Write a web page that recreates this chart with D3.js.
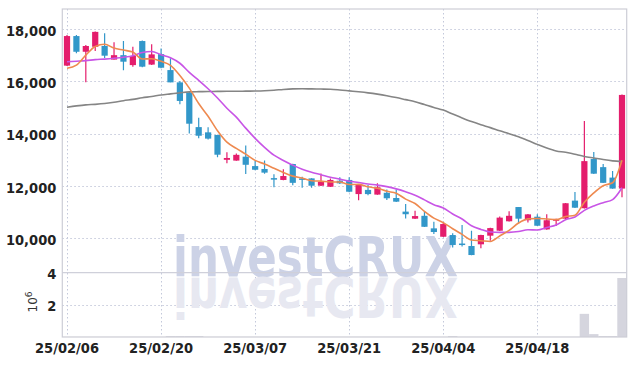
<!DOCTYPE html>
<html><head><meta charset="utf-8">
<script src="https://cdn.jsdelivr.net/npm/d3@7"></script>
<style>body{margin:0;background:#fff;} svg{display:block;}</style>
</head><body><svg id="c" width="635" height="366"></svg>
<script>
const dates = ["25/02/06","25/02/07","25/02/10","25/02/11","25/02/12","25/02/13","25/02/14","25/02/17","25/02/18","25/02/19",
"25/02/20","25/02/21","25/02/24","25/02/25","25/02/26","25/02/27","25/02/28","25/03/04","25/03/05","25/03/06",
"25/03/07","25/03/10","25/03/11","25/03/12","25/03/13","25/03/14","25/03/17","25/03/18","25/03/19","25/03/20",
"25/03/21","25/03/24","25/03/25","25/03/26","25/03/27","25/03/28","25/03/31","25/04/01","25/04/02","25/04/03",
"25/04/04","25/04/07","25/04/08","25/04/09","25/04/10","25/04/11","25/04/14","25/04/15","25/04/16","25/04/17",
"25/04/18","25/04/21","25/04/22","25/04/23","25/04/24","25/04/25","25/04/28","25/04/29","25/04/30","25/05/02"];
const open  = [16600,17730,17130,17320,17350,16830,17000,16620,17540,16640,17040,16430,15960,15570,14250,14050,13950,13000,12970,13120,
12760,12650,12300,12230,12840,12290,12290,12010,11970,12200,12230,11690,11850,11670,11740,11540,11020,10750,10860,10380,
10060,10125,9800,9705,9770,10100,10290,10650,11195,10690,10825,10340,10670,10750,11440,11150,13030,12720,12320,11900];
const high  = [17770,17770,17390,17900,17835,17490,17540,17320,17560,17420,17250,16880,16010,15600,14610,14240,13960,13290,13240,13550,
12950,12970,12450,12640,12850,12350,12300,12480,12290,12330,12330,12050,12040,12100,11870,11870,11310,11050,11020,10630,
10620,10190,10510,10290,10140,10400,10830,11030,11200,10930,10915,10915,10750,11350,11770,14480,13300,12840,12570,15500];
const low   = [16590,17070,15960,17160,16890,16830,16420,16560,16540,16620,16500,15960,15120,14010,13820,13780,13095,12870,12960,12460,
12600,12470,11950,12220,12025,11930,11930,12000,11960,12080,11760,11450,11650,11660,11460,11390,10760,10740,10430,10160,
10050,9650,9690,9350,9615,9910,10280,10640,10570,10600,10470,10330,10470,10740,11160,11140,12460,12110,11890,11570];
const close = [17730,17130,17350,17890,16980,17000,16750,16970,16560,17030,16520,15960,15250,14380,13920,13810,13195,13070,13190,12810,
12620,12510,12250,12380,12120,12250,12010,12160,12230,12100,11780,12040,11690,11950,11530,11400,10920,10850,10440,10240,
10545,9745,9770,9360,10125,10390,10790,10860,10750,10915,10480,10690,10740,11340,11170,12950,12470,12120,11900,15480];
const volume = [8000,8000,8000,8000,8000,8000,8000,8000,8000,8000,8000,60000,60000,60000,60000,8000,8000,8000,8000,8000,
8000,8000,8000,8000,8000,8000,8000,8000,8000,8000,8000,8000,8000,8000,8000,8000,8000,8000,8000,8000,
8000,60000,8000,8000,8000,8000,8000,8000,8000,8000,8000,8000,8000,8000,8000,1440000,180000,60000,60000,3670000];
const ma5 = [16500,16620,17000,17330,17416,17270,17194,17118,16852,16862,16766,16608,16220,15740,15150,14664,14111,13675,13437,13215,
12977,12840,12676,12514,12376,12302,12202,12184,12154,12150,12056,12062,11968,11912,11798,11722,11498,11330,11028,10770,
10599,10364,10148,9932,9909,9878,10087,10305,10583,10741,10759,10739,10715,10833,10884,11378,11734,12010,12122,12984];
const ma10 = [16750,16770,16790,16830,16850,16880,16920,16980,17100,17139,17018,16901,16691,16340,16034,15715,15360,14970,14633,14211,
13821,13476,13176,12976,12796,12640,12521,12430,12334,12263,12179,12132,12076,12033,11974,11889,11780,11649,11470,11284,
11161,10931,10739,10480,10340,10239,10226,10227,10258,10325,10319,10413,10510,10708,10813,11069,11237,11363,11478,11934];
const maLong = [15010,15060,15100,15120,15150,15200,15260,15310,15370,15420,15480,15520,15560,15595,15605,15610,15615,15620,15620,15625,
15630,15640,15660,15690,15710,15715,15710,15705,15698,15670,15635,15600,15560,15510,15450,15380,15300,15220,15110,15000,
14900,14750,14600,14460,14340,14230,14110,14000,13880,13740,13590,13450,13340,13290,13210,13130,13070,13010,12960,12930];
const priceTicks = [10000,12000,14000,16000,18000];
const volTicks = [2000000,4000000];
const dateTicks = ["25/02/06","25/02/20","25/03/07","25/03/21","25/04/04","25/04/18"];

const L=62.3, R=626.7, T=9, PB=272.7, B=337;
const svg = d3.select("#c");
const x = d3.scaleBand().domain(dates).range([L,R]).padding(0);
const cx = d => x(d)+x.bandwidth()/2;
const y = d3.scaleLinear().domain([10000,18000]).range([238.3,29]);
const yv = d3.scaleLinear().domain([0,4000000]).range([B,PB]);
const UP="#e41d6c", DOWN="#3297c9";
const font = "'Liberation Sans Narrow','DejaVu Sans Condensed',sans-serif";

svg.append("defs").append("clipPath").attr("id","pc").append("rect")
  .attr("x",L).attr("y",T).attr("width",R-L).attr("height",PB-T);

const grid = svg.append("g").attr("stroke","#c3c8da").attr("stroke-dasharray","1.5,2.5").attr("stroke-width",1);
grid.selectAll(".hv").data(dateTicks).join("line")
  .attr("x1",d=>Math.round(cx(d))+0.5).attr("x2",d=>Math.round(cx(d))+0.5).attr("y1",T).attr("y2",B);
grid.selectAll(".hp").data(priceTicks).join("line")
  .attr("x1",L).attr("x2",R).attr("y1",d=>Math.round(y(d))+0.5).attr("y2",d=>Math.round(y(d))+0.5);
grid.selectAll(".hvol").data([volTicks[0]]).join("line")
  .attr("x1",L).attr("x2",R).attr("y1",d=>Math.round(yv(d))+0.5).attr("y2",d=>Math.round(yv(d))+0.5);

// watermark with reflection
const wm = svg.append("g");
wm.append("text").attr("x",173).attr("y",276).attr("textLength",285).attr("lengthAdjust","spacingAndGlyphs")
  .attr("font-family","'DejaVu Sans',sans-serif").attr("font-weight","bold").attr("font-size",56)
  .attr("fill","#ccd2e6").text("investCRUX");
wm.append("text").attr("x",173).attr("y",-278).attr("transform","scale(1,-1)").attr("textLength",285).attr("lengthAdjust","spacingAndGlyphs")
  .attr("font-family","'DejaVu Sans',sans-serif").attr("font-weight","bold").attr("font-size",56)
  .attr("fill","#e7e8f1").text("investCRUX");

// volume bars
svg.append("g").selectAll("rect").data(dates).join("rect")
  .attr("x",d=>x(d)).attr("width",x.bandwidth())
  .attr("y",(d,i)=>yv(volume[i])).attr("height",(d,i)=>B-yv(volume[i]))
  .attr("fill","#d5d5de");

// separator & borders
svg.append("line").attr("x1",L).attr("x2",R).attr("y1",PB).attr("y2",PB).attr("stroke","#cfd0da").attr("stroke-width",1.2);
svg.append("rect").attr("x",L).attr("y",T).attr("width",R-L).attr("height",B-T).attr("fill","none").attr("stroke","#cdced6").attr("stroke-width",1.2);

// candles
const cg = svg.append("g").attr("clip-path","url(#pc)");
const bw = x.bandwidth()*0.66;
dates.forEach((d,i)=>{
  const up = close[i]>=open[i];
  const col = up?UP:DOWN;
  const c = cx(d);
  cg.append("line").attr("x1",c).attr("x2",c).attr("y1",y(high[i])).attr("y2",y(low[i])).attr("stroke",col).attr("stroke-width",1.2);
  const y0 = y(Math.max(open[i],close[i])), y1 = y(Math.min(open[i],close[i]));
  cg.append("rect").attr("x",c-bw/2).attr("width",bw).attr("y",y0).attr("height",Math.max(1.5,y1-y0)).attr("fill",col);
});

// MA lines
const line = arr => d3.line().x((d,i)=>cx(dates[i])).y(d=>y(d)).curve(d3.curveMonotoneX)(arr);
const lg = svg.append("g").attr("clip-path","url(#pc)").attr("fill","none").attr("stroke-width",1.6);
lg.append("path").attr("d",line(maLong)).attr("stroke","#858585");
lg.append("path").attr("d",line(ma10)).attr("stroke","#c855e6");
lg.append("path").attr("d",line(ma5)).attr("stroke","#ee8a50");

// axes
const ay = d3.axisLeft(y).tickValues(priceTicks).tickFormat(d3.format(",")).tickSize(0).tickPadding(6);
const gy = svg.append("g").attr("transform",`translate(${L},0)`).call(ay);
const av = d3.axisLeft(yv).tickValues(volTicks).tickFormat(d=>d/1e6).tickSize(0).tickPadding(6);
const gv = svg.append("g").attr("transform",`translate(${L},0)`).call(av);
const ax = d3.axisBottom(x).tickValues(dateTicks).tickSize(0).tickPadding(6);
const gx = svg.append("g").attr("transform",`translate(0,${B})`).call(ax);
[gy,gv,gx].forEach(g=>{
  g.select(".domain").remove();
  g.selectAll("text").attr("font-family",font).attr("font-weight","bold").attr("font-size",14.5).attr("fill","#222");
});
gy.selectAll("text").attr("dy","0.42em");
gv.selectAll("text").attr("dy","0.38em");
svg.append("text").attr("transform","translate(37,302) rotate(-90)").attr("text-anchor","middle")
  .attr("font-family","'DejaVu Sans',sans-serif").attr("font-size",12).attr("fill","#333")
  .html('10<tspan dy="-5" font-size="9">6</tspan>');
</script></body></html>
